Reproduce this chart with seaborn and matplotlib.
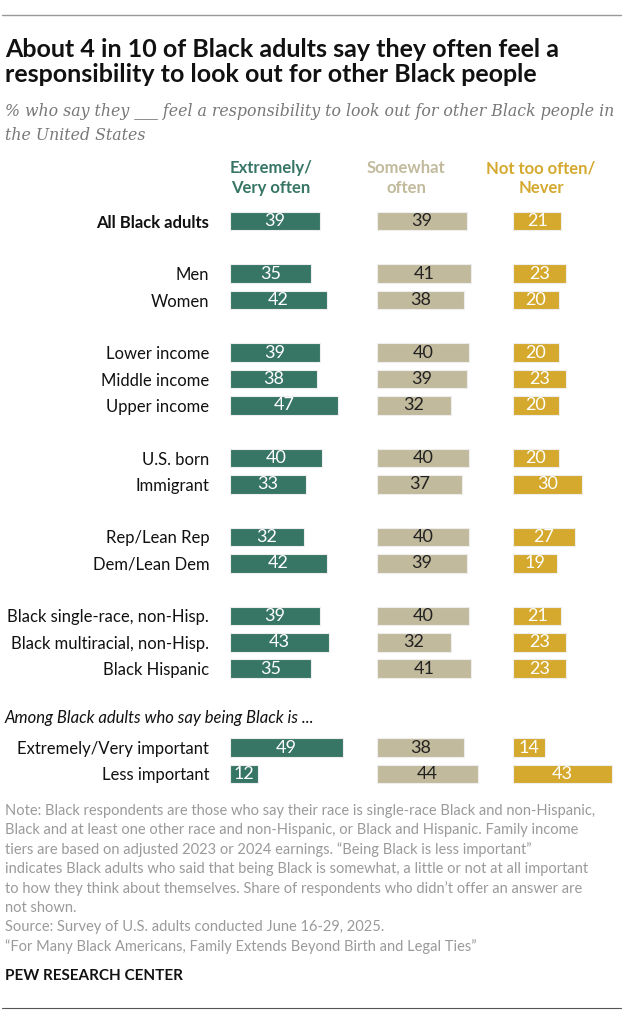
import numpy as np
import pandas as pd
import matplotlib
matplotlib.use("Agg")
import matplotlib.pyplot as plt
import seaborn as sns

# data
groups = ["All Black adults", "Men", "Women", "Lower income", "Middle income",
          "Upper income", "U.S. born", "Immigrant", "Rep/Lean Rep", "Dem/Lean Dem",
          "Black single-race, non-Hisp.", "Black multiracial, non-Hisp.",
          "Black Hispanic", "Extremely/Very important", "Less important"]
very_often = [39, 35, 42, 39, 38, 47, 40, 33, 32, 42, 39, 43, 35, 49, 12]
somewhat_often = [39, 41, 38, 40, 39, 32, 40, 37, 40, 39, 40, 32, 41, 38, 44]
not_often = [21, 23, 20, 20, 23, 20, 20, 30, 27, 19, 21, 23, 23, 14, 43]
col_titles = ["Extremely/\nVery often", "Somewhat\noften", "Not too often/\nNever"]

# row slots (blank slots separate the groups)
row_pos = [0, 2, 3, 5, 6, 7, 9, 10, 12, 13, 15, 16, 17, 20, 21]

df = pd.DataFrame({"group": groups, "pos": row_pos, "very": very_often,
                   "somewhat": somewhat_often, "never": not_often})

sns.set_theme(style="white")
FONT = ["Lato", "DejaVu Sans"]
SERIF = ["DejaVu Serif"]
plt.rcParams["font.family"] = FONT

W, H = 623, 1023
fig = plt.figure(figsize=(W / 100, H / 100), dpi=100)

def fy(y):
    return 1 - y / H

green, tan, gold = "#377565", "#C2BA9C", "#D4A92E"
cols = [("very", green, "white", 230, 50), ("somewhat", tan, "#222222", 377, 50),
        ("never", gold, "white", 513, 45)]
px_per_unit = 2.3
row_h = 26.33
top = 221 - row_h / 2
bottom = 774 + row_h / 2

axes = []
for col, c, tc, left, span in cols:
    ax = fig.add_axes([left / W, fy(bottom), span * px_per_unit / W, (bottom - top) / H])
    sns.barplot(data=df, x=col, y="pos", orient="h", native_scale=True, color=c,
                width=0.72, ax=ax, edgecolor="#eeeeee", linewidth=0.8, saturation=1)
    ax.set_xlim(0, span)
    ax.set_ylim(21.5, -0.5)
    ax.bar_label(ax.containers[0], labels=df[col].astype(str), label_type="center",
                 color=tc, fontsize=13)
    ax.set_xticks([])
    ax.set_xlabel("")
    ax.set_ylabel("")
    sns.despine(ax=ax, left=True, bottom=True)
    axes.append(ax)

for ax in axes[1:]:
    ax.set_yticks([])

ax0 = axes[0]
ax0.set_yticks(row_pos, groups)
ax0.tick_params(axis="y", length=0, pad=15, labelsize=12, labelcolor="#111111")
ax0.get_yticklabels()[0].set_fontweight("bold")

# column headers
for (col, c, tc, left, span), title, cx in zip(cols, col_titles, [271, 406, 541]):
    fig.text(cx / W, fy(178), title, ha="center", va="center", color=c,
             fontsize=12, fontweight="bold", linespacing=1.25)

# title, subtitle
fig.add_artist(plt.Line2D([2 / W, 621 / W], [fy(15), fy(15)], color="#999999", lw=1))
fig.text(5 / W, fy(62), "About 4 in 10 of Black adults say they often feel a\n"
         "responsibility to look out for other Black people",
         ha="left", va="center", fontsize=18, fontweight="bold", color="#111111",
         linespacing=1.15)
fig.text(5 / W, fy(123.5), "% who say they ___ feel a responsibility to look out for other Black people in\n"
         "the United States", ha="left", va="center", fontsize=11.3, style="italic",
         color="#777777", family=SERIF, linespacing=1.5)

fig.text(5 / W, fy(718), "Among Black adults who say being Black is ...", ha="left",
         va="center", fontsize=12, style="italic", color="#111111")

note_lines = [
    "Note: Black respondents are those who say their race is single-race Black and non-Hispanic,",
    "Black and at least one other race and non-Hispanic, or Black and Hispanic. Family income",
    "tiers are based on adjusted 2023 or 2024 earnings. \u201cBeing Black is less important\u201d",
    "indicates Black adults who said that being Black is somewhat, a little or not at all important",
    "to how they think about themselves. Share of respondents who didn\u2019t offer an answer are",
    "not shown.",
    "Source: Survey of U.S. adults conducted June 16-29, 2025.",
    "\u201cFor Many Black Americans, Family Extends Beyond Birth and Legal Ties\u201d",
]
for i, line in enumerate(note_lines):
    fig.text(5 / W, fy(811 + i * 19.4), line, ha="left", va="center", fontsize=10.5,
             color="#9a9a9a")
fig.text(5 / W, fy(976), "PEW RESEARCH CENTER", ha="left", va="center", fontsize=11,
         fontweight="bold", color="#111111")
fig.add_artist(plt.Line2D([2 / W, 621 / W], [fy(1008), fy(1008)], color="#555555", lw=0.8))

fig.savefig("out.png", dpi=100, facecolor="white")
